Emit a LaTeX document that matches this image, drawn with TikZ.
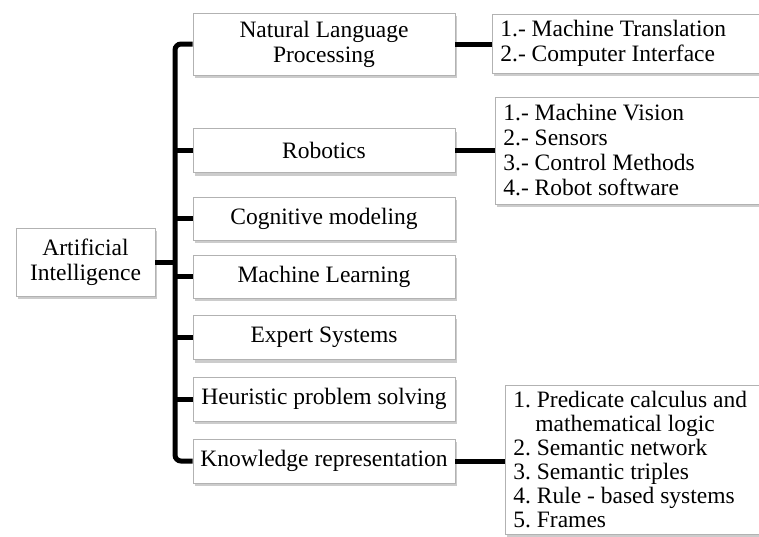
\documentclass[tikz,border=0pt]{standalone}
\usepackage{fontspec}
\setmainfont{Liberation Serif}
\usetikzlibrary{shadows}
\frenchspacing

\begin{document}
\begin{tikzpicture}[x=1pt, y=-1pt,
    box/.style={draw=gray!60, fill=white, line width=0.8pt,
      drop shadow={shadow xshift=2pt, shadow yshift=-3pt, fill=gray!80, opacity=.5},
      font=\fontsize{23.5}{25}\selectfont\frenchspacing},
    topic/.style={box, inner sep=0pt, minimum width=262pt, minimum height=44pt, align=center},
    items/.style={box, inner xsep=8pt, inner ysep=5pt, align=flush left},
    link/.style={line width=5pt}]
  \useasboundingbox (0,0) rectangle (759,536);
  % root and main branches
  \node[box, inner sep=0pt, minimum width=139pt, minimum height=68pt, align=center] (ai) at (85.5,262) {Artificial\\Intelligence};
  \node[topic, minimum height=62pt] (nlp) at (324,44) {Natural Language\\Processing};
  \node[topic] (rob) at (324,150.5) {Robotics};
  \node[topic, minimum height=43pt] (cog) at (324,218.5) {Cognitive modeling};
  \node[topic, minimum height=43pt] (ml) at (324,276.5) {Machine Learning};
  \node[topic] (es) at (324,337.5) {Expert Systems};
  \node[topic] (hps) at (324,399) {Heuristic problem solving};
  \node[topic] (kr) at (324,461) {Knowledge representation};
  % item lists (they run past the right edge)
  \node[items, anchor=west, text width=260pt, minimum height=59pt] (nlpl) at (492,43.5)
    {1.- Machine Translation\\2.- Computer Interface};
  \node[items, anchor=west, text width=258pt, minimum height=107pt] (robl) at (495,150.5)
    {1.- Machine Vision\\2.- Sensors\\3.- Control Methods\\4.- Robot software};
  \node[items, anchor=north west, text width=255pt, inner ysep=6pt, font=\fontsize{23.5}{24}\selectfont\frenchspacing] (krl) at (505,385)
    {1. Predicate calculus and\\\hspace*{22pt}mathematical logic\\2. Semantic network\\3. Semantic triples\\4. Rule - based systems\\5. Frames};
  % connectors
  \coordinate (bus) at (175,0);
  \draw[link, rounded corners=6pt] (nlp.west) -- (nlp.west -| bus) -- (kr.west -| bus) -- (kr.west);
  \foreach \n in {rob,cog,ml,es,hps}
    \draw[link] (\n.west -| bus) -- (\n.west);
  \draw[link] (ai.east) -- (ai.east -| bus);
  \draw[link] (nlp.east) -- (nlp.east -| nlpl.west);
  \draw[link] (rob.east) -- (rob.east -| robl.west);
  \draw[link] (kr.east) -- (kr.east -| krl.west);
\end{tikzpicture}
\end{document}
